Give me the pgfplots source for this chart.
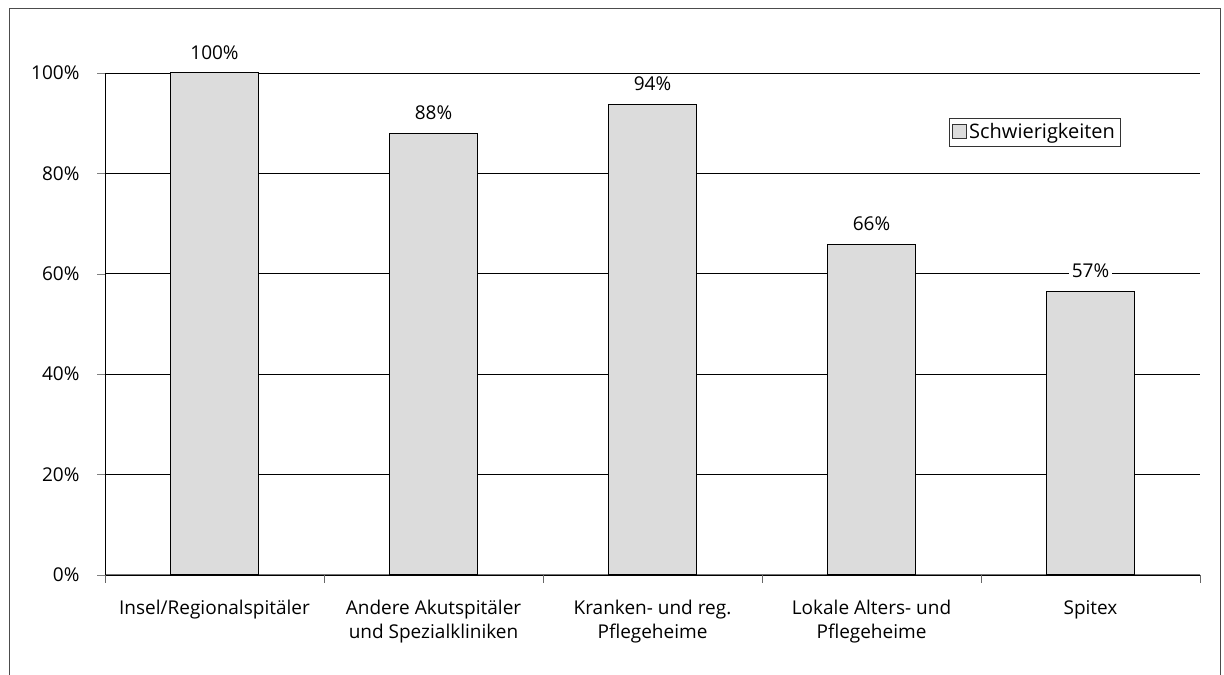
\documentclass[border=0pt]{standalone}
\usepackage{pgfplots}
\pgfplotsset{compat=1.18}
\usepackage{fontspec}
\setmainfont{Open Sans}

\definecolor{barfill}{RGB}{220,220,220}

\pgfplotstableread{
x y lab
0 100 100
1 88 88
2 93.8 94
3 65.9 66
4 56.5 57
}\schwierig

\begin{document}
\fontsize{19bp}{24bp}\selectfont
\begin{tikzpicture}[x=1bp,y=1bp]
  \useasboundingbox (0,0) rectangle (1224,675);
  % frame, cut at the bottom as in the original
  \draw[black!70, line width=1bp] (9,0) -- (9,666) -- (1220,666) -- (1220,0);
  \begin{axis}[
      at={(105bp,100bp)}, anchor=south west,
      scale only axis, width=1095bp, height=502bp,
      ybar, bar width=88bp,
      xmin=-0.5, xmax=4.5, ymin=0, ymax=100,
      axis x line=bottom, axis y line=left,
      x axis line style={-, black!55, line width=1bp},
      y axis line style={-, black, line width=1bp},
      xtick={0,...,4},
      xticklabels={Insel/Regionalspitäler, {Andere Akutspitäler\\und Spezialkliniken}, {Kranken- und reg.\\Pflegeheime}, {Lokale Alters- und\\Pflegeheime}, Spitex},
      xticklabel style={align=center, anchor=north, yshift=-11bp},
      major x tick style={draw=none},
      minor xtick={-0.5,0.5,...,4.5},
      minor x tick style={black!60, line width=1bp},
      ytick={0,20,...,100},
      yticklabel={\pgfmathprintnumber{\tick}\%},
      yticklabel style={xshift=-11bp},
      tick align=outside,
      major tick length=8bp, minor tick length=8bp,
      ymajorgrids,
      major grid style={black, line width=0.8bp},
      /pgf/number format/assume math mode=true,
      point meta=explicit,
      nodes near coords={\pgfmathprintnumber{\pgfplotspointmeta}\%},
      every node near coord/.append style={fill=white, inner sep=3bp, yshift=10bp},
      legend style={at={(0.849,0.882)}, anchor=center, draw=black!80, line width=0.8bp,
        inner sep=3bp, row sep=0pt, font=\fontsize{20bp}{22bp}\selectfont},
      legend cell align=left,
      legend image code/.code={\draw[#1, fill=barfill, draw=black!80, line width=0.8bp] (0bp,-6bp) rectangle (14bp,8bp);},
    ]
    \addplot[fill=barfill, draw=black, line width=1bp] table[x=x, y=y, meta=lab] {\schwierig};
    \addlegendentry{Schwierigkeiten}
  \end{axis}
\end{tikzpicture}
\end{document}
